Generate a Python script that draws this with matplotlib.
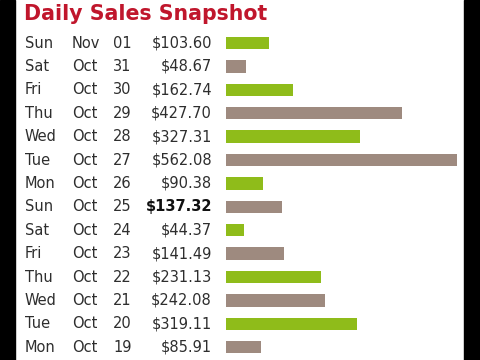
import matplotlib
matplotlib.use('Agg')
import matplotlib.pyplot as plt
from matplotlib.patches import Rectangle
from matplotlib.transforms import blended_transform_factory

# data (top to bottom)
days = ['Sun', 'Sat', 'Fri', 'Thu', 'Wed', 'Tue', 'Mon',
        'Sun', 'Sat', 'Fri', 'Thu', 'Wed', 'Tue', 'Mon']
months = ['Nov', 'Oct', 'Oct', 'Oct', 'Oct', 'Oct', 'Oct',
          'Oct', 'Oct', 'Oct', 'Oct', 'Oct', 'Oct', 'Oct']
dates = ['01', '31', '30', '29', '28', '27', '26',
         '25', '24', '23', '22', '21', '20', '19']
sales = [103.60, 48.67, 162.74, 427.70, 327.31, 562.08, 90.38,
         137.32, 44.37, 141.49, 231.13, 242.08, 319.11, 85.91]
highlight = 7  # Sun Oct 25 shown in bold

W, H = 480, 360
fig = plt.figure(figsize=(4.8, 3.6), dpi=100)
fig.patch.set_facecolor('white')

# black side bands (video frame)
fig.patches.append(Rectangle((0, 0), 15 / W, 1, transform=fig.transFigure,
                             color='black', zorder=10))
fig.patches.append(Rectangle((464 / W, 0), 16 / W, 1, transform=fig.transFigure,
                             color='black', zorder=10))

fig.text(24 / W, 1 - 14.5 / H, 'Daily Sales Snapshot', color='#c0162c',
         fontsize=14.8, fontweight='bold', va='center', ha='left')

row_h = 23.4
top = 43 - row_h / 2
n = len(sales)
ax_left, ax_right = 226, 464
ax = fig.add_axes([ax_left / W, 1 - (top + n * row_h) / H,
                   (ax_right - ax_left) / W, n * row_h / H])
ax.set_axis_off()
scale = 0.4105  # px per dollar
ax.set_xlim(0, (ax_right - ax_left) / scale)
ax.set_ylim(n - 0.5, -0.5)

colors = ['#8fbc1a' if i % 2 == 0 else '#9e8a7f' for i in range(n)]
ax.barh(range(n), sales, height=12.5 / row_h, left=0, color=colors,
        edgecolor='none')

tr = blended_transform_factory(fig.transFigure, ax.transData)
txt = dict(fontsize=10.5, va='center', transform=tr)
for i in range(n):
    ax.text(25 / W, i, days[i], ha='left', color='#2e2e2e', **txt)
    ax.text(72 / W, i, months[i], ha='left', color='#2e2e2e', **txt)
    ax.text(113 / W, i, dates[i], ha='left', color='#2e2e2e', **txt)
    bold = i == highlight
    ax.text(212 / W, i, '${:.2f}'.format(sales[i]), ha='right',
            fontweight='bold' if bold else 'normal',
            color='#111111' if bold else '#2e2e2e', **txt)

fig.savefig('out.png', dpi=100)
